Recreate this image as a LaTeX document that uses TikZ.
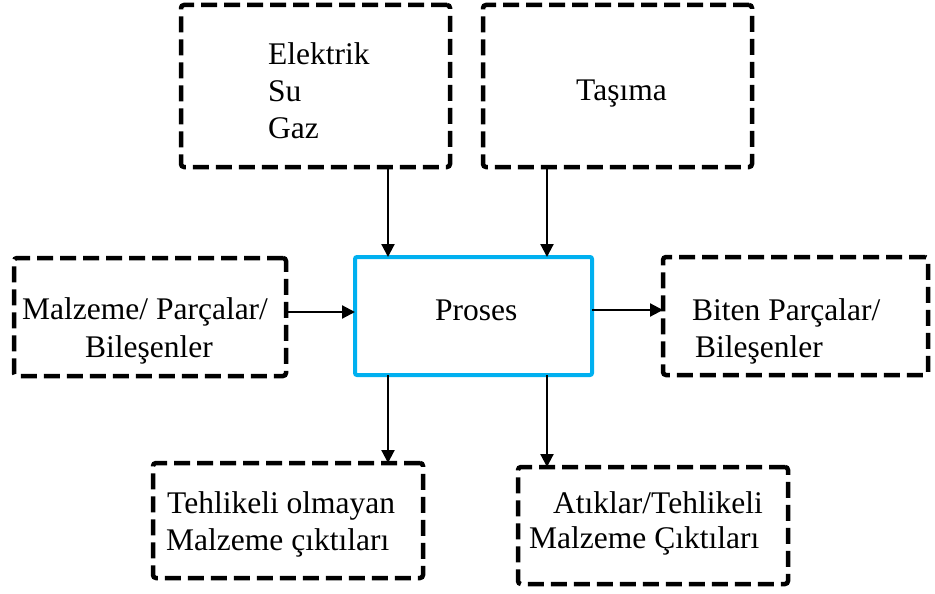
\documentclass[tikz,border=0pt]{standalone}
\usepackage{fontspec}
\setmainfont{Liberation Serif}
\usetikzlibrary{arrows.meta}
\definecolor{procblue}{RGB}{0,176,240}
\tikzset{
  dbox/.style={draw=black, line width=4.5pt, dash pattern=on 16pt off 7pt, rounded corners=3pt, inner sep=0pt, outer sep=0pt},
  pbox/.style={draw=procblue, line width=4pt, rounded corners=2pt, inner sep=0pt, outer sep=0pt},
  txt/.style={inner sep=0pt, anchor=base west, font=\fontsize{31.5}{37}\selectfont},
  arr/.style={line width=2.2pt, -{Triangle[length=13pt,width=13pt]}}
}
\begin{document}
\begin{tikzpicture}[x=1pt,y=-1pt]
\useasboundingbox (0,0) rectangle (935,594);
% boxes
\node[dbox, minimum width=269pt, minimum height=162pt] (A) at (315.5,86) {};
\node[dbox, minimum width=269pt, minimum height=162pt] (B) at (617.5,86) {};
\node[dbox, minimum width=272pt, minimum height=118pt] (C) at (150,317) {};
\node[pbox, minimum width=237pt, minimum height=118pt] (P) at (473.5,316) {};
\node[dbox, minimum width=265pt, minimum height=118pt] (D) at (795.5,316) {};
\node[dbox, minimum width=270pt, minimum height=115pt] (E) at (288,520.5) {};
\node[dbox, minimum width=270pt, minimum height=117pt] (F) at (653,525.5) {};
% texts
\node[txt] (a1) at (268,65) {Elektrik};
\node[txt] (a2) at (268,102) {Su};
\node[txt] (a3) at (268,138) {Gaz};
\node[txt] (b1) at (576,100) {Taşıma};
\node[txt] (c1) at (22,319) {Malzeme/ Parçalar/};
\node[txt] (c2) at (85,357) {Bileşenler};
\node[txt] (p1) at (435,320) {Proses};
\node[txt] (d1) at (692,320) {Biten Parçalar/};
\node[txt] (d2) at (695,357) {Bileşenler};
\node[txt] (e1) at (167,513) {Tehlikeli olmayan};
\node[txt] (e2) at (166,550) {Malzeme çıktıları};
\node[txt] (f1) at (553,513) {Atıklar/Tehlikeli};
\node[txt] (f2) at (529,548) {Malzeme Çıktıları};
% guide coordinates
\coordinate (xl) at (388,0);
\coordinate (xr) at (547,0);
\coordinate (yl) at (0,312);
\coordinate (yr) at (0,310);
% connectors
\draw[arr] (A.south -| xl) -- (P.north -| xl);
\draw[arr] (B.south -| xr) -- (P.north -| xr);
\draw[arr] (C.east |- yl) -- (P.west |- yl);
\draw[arr] (P.east |- yr) -- (D.west |- yr);
\draw[arr] (P.south -| xl) -- (E.north -| xl);
\draw[arr] (P.south -| xr) -- (F.north -| xr);
\end{tikzpicture}
\end{document}
